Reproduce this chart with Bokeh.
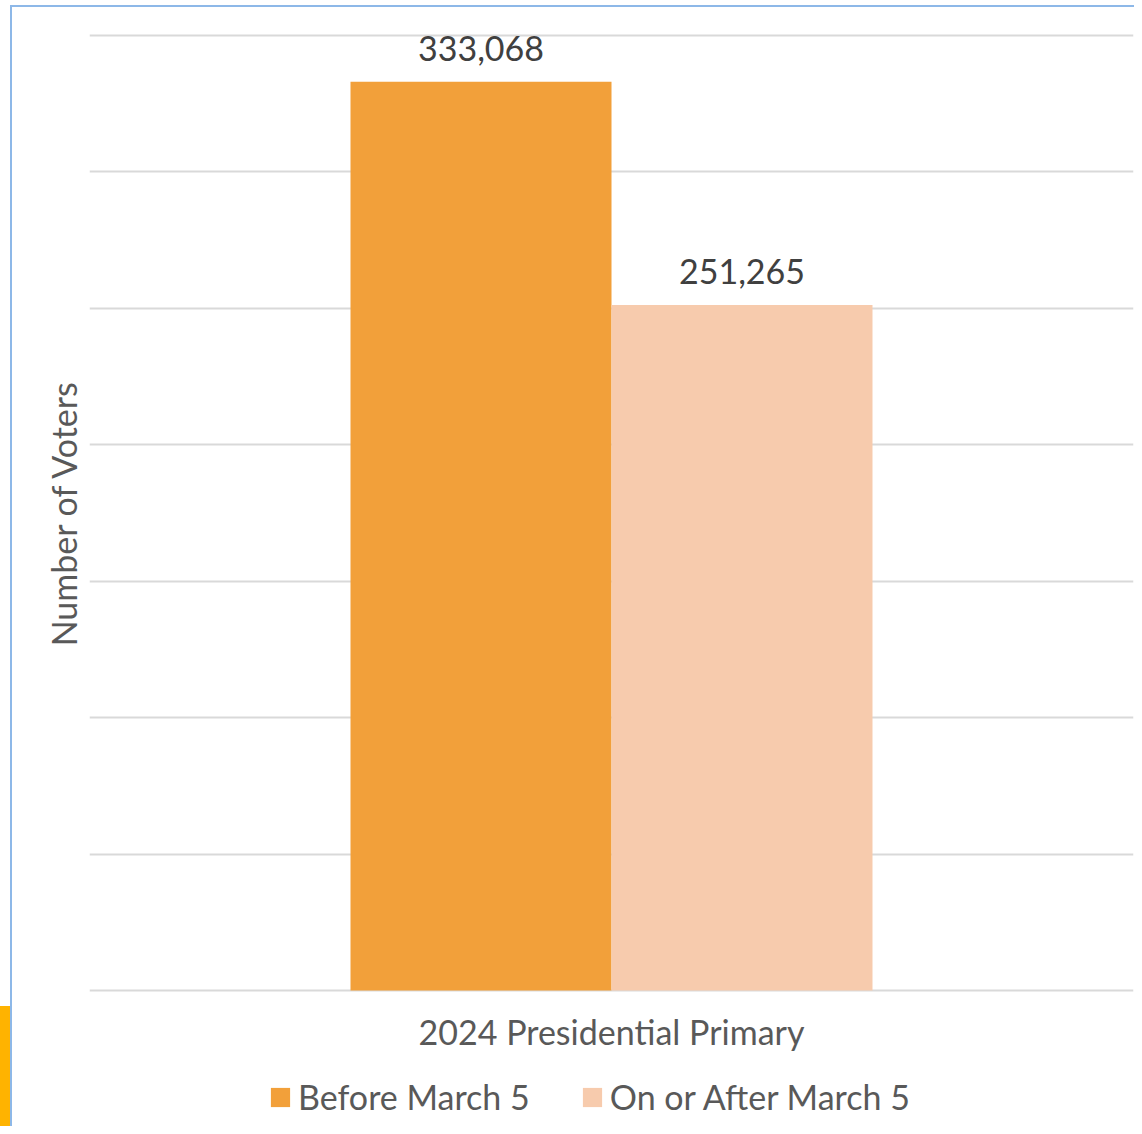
from bokeh.plotting import figure
from bokeh.layouts import column
from bokeh.models import (ColumnDataSource, Range1d, FactorRange, LabelSet, Legend,
                          LegendItem, SingleIntervalTicker)
from bokeh.core.properties import value
from bokeh.transform import dodge
from bokeh.embed import file_html
from bokeh.resources import INLINE

# ---- data ----
category = ["2024 Presidential Primary"]
series_names = ["Before March 5", "On or After March 5"]
before_values = [333068]
after_values = [251265]
before_labels = ["333,068"]
after_labels = ["251,265"]
colors = ["#F2A03A", "#F7CBAD"]

FONT = "Lato"
TXT = "#595959"
FS = "34px"
W = 1134

p = figure(width=W, height=1070, output_backend="svg", toolbar_location=None,
           x_range=FactorRange(*category), y_range=Range1d(-3665, 353665),
           min_border_left=89, min_border_right=1, min_border_top=25, min_border_bottom=70)
p.outline_line_color = None
p.background_fill_color = "white"
p.border_fill_color = None

src_b = ColumnDataSource(dict(cat=category, val=before_values, lab=before_labels))
src_a = ColumnDataSource(dict(cat=category, val=after_values, lab=after_labels))

r1 = p.vbar(x=dodge("cat", -0.125, range=p.x_range), top="val", width=0.25, bottom=0,
            source=src_b, fill_color=colors[0], line_color=None)
r2 = p.vbar(x=dodge("cat", 0.125, range=p.x_range), top="val", width=0.25, bottom=0,
            source=src_a, fill_color=colors[1], line_color=None)

for src, off in ((src_b, -0.125), (src_a, 0.125)):
    ls = LabelSet(x=dodge("cat", off, range=p.x_range), y="val", text="lab", source=src,
                  text_align="center", text_baseline="alphabetic", y_offset=21,
                  text_font=value(FONT), text_font_size=value(FS), text_color="#404040")
    p.add_layout(ls)

# grid
p.xgrid.grid_line_color = None
p.ygrid.grid_line_color = "#D9D9D9"
p.ygrid.grid_line_width = 2
p.yaxis.ticker = SingleIntervalTicker(interval=50000)

# y axis
p.yaxis.axis_line_color = None
p.yaxis.major_tick_line_color = None
p.yaxis.minor_tick_line_color = None
p.yaxis.major_label_text_font_size = "1px"
p.yaxis.major_label_text_color = None
p.yaxis.major_label_standoff = 0
p.yaxis.axis_label = "Number of Voters"
p.yaxis.axis_label_text_font = FONT
p.yaxis.axis_label_text_font_size = FS
p.yaxis.axis_label_text_font_style = "normal"
p.yaxis.axis_label_text_color = TXT
p.yaxis.axis_label_standoff = 0

# x axis
p.xaxis.axis_line_color = None
p.xaxis.major_tick_line_color = None
p.xaxis.minor_tick_line_color = None
p.xaxis.major_label_text_font = FONT
p.xaxis.major_label_text_font_size = FS
p.xaxis.major_label_text_color = TXT
p.xaxis.major_label_standoff = 4

# ---- legend strip (bars fall outside its visible range; only swatches show) ----
lg = figure(width=W, height=56, output_backend="svg", toolbar_location=None,
            x_range=FactorRange(*category), y_range=Range1d(2e6, 3e6),
            x_axis_location=None, y_axis_location=None,
            min_border_left=0, min_border_right=0, min_border_top=0, min_border_bottom=0)
lg.outline_line_color = None
lg.background_fill_color = None
lg.border_fill_color = None
lg.grid.visible = False
e1 = lg.vbar(x=dodge("cat", -0.125, range=lg.x_range), top="val", width=0.25, bottom=0,
             source=src_b, fill_color=colors[0], line_color=None)
e2 = lg.vbar(x=dodge("cat", 0.125, range=lg.x_range), top="val", width=0.25, bottom=0,
             source=src_a, fill_color=colors[1], line_color=None)
legend = Legend(items=[LegendItem(label=series_names[0], renderers=[e1]),
                       LegendItem(label=series_names[1], renderers=[e2])],
                orientation="horizontal", location=(179, 9),
                glyph_width=24, glyph_height=24, label_standoff=6, spacing=50,
                label_text_font=FONT, label_text_font_size=FS, label_text_color=TXT,
                border_line_color=None, background_fill_alpha=0, padding=0, margin=0)
lg.add_layout(legend, "center")

layout = column(p, lg, spacing=0)
layout.styles = {
    "background": ("linear-gradient(#FFB300,#FFB300) 0px 1006px / 10px 128px no-repeat, "
                   "linear-gradient(#8DB8E8,#8DB8E8) 10px 5px / 2px 100% no-repeat, "
                   "linear-gradient(#8DB8E8,#8DB8E8) 10px 5px / 100% 2px no-repeat, "
                   "#ffffff")
}

open("out.html", "w").write(file_html(layout, INLINE))
